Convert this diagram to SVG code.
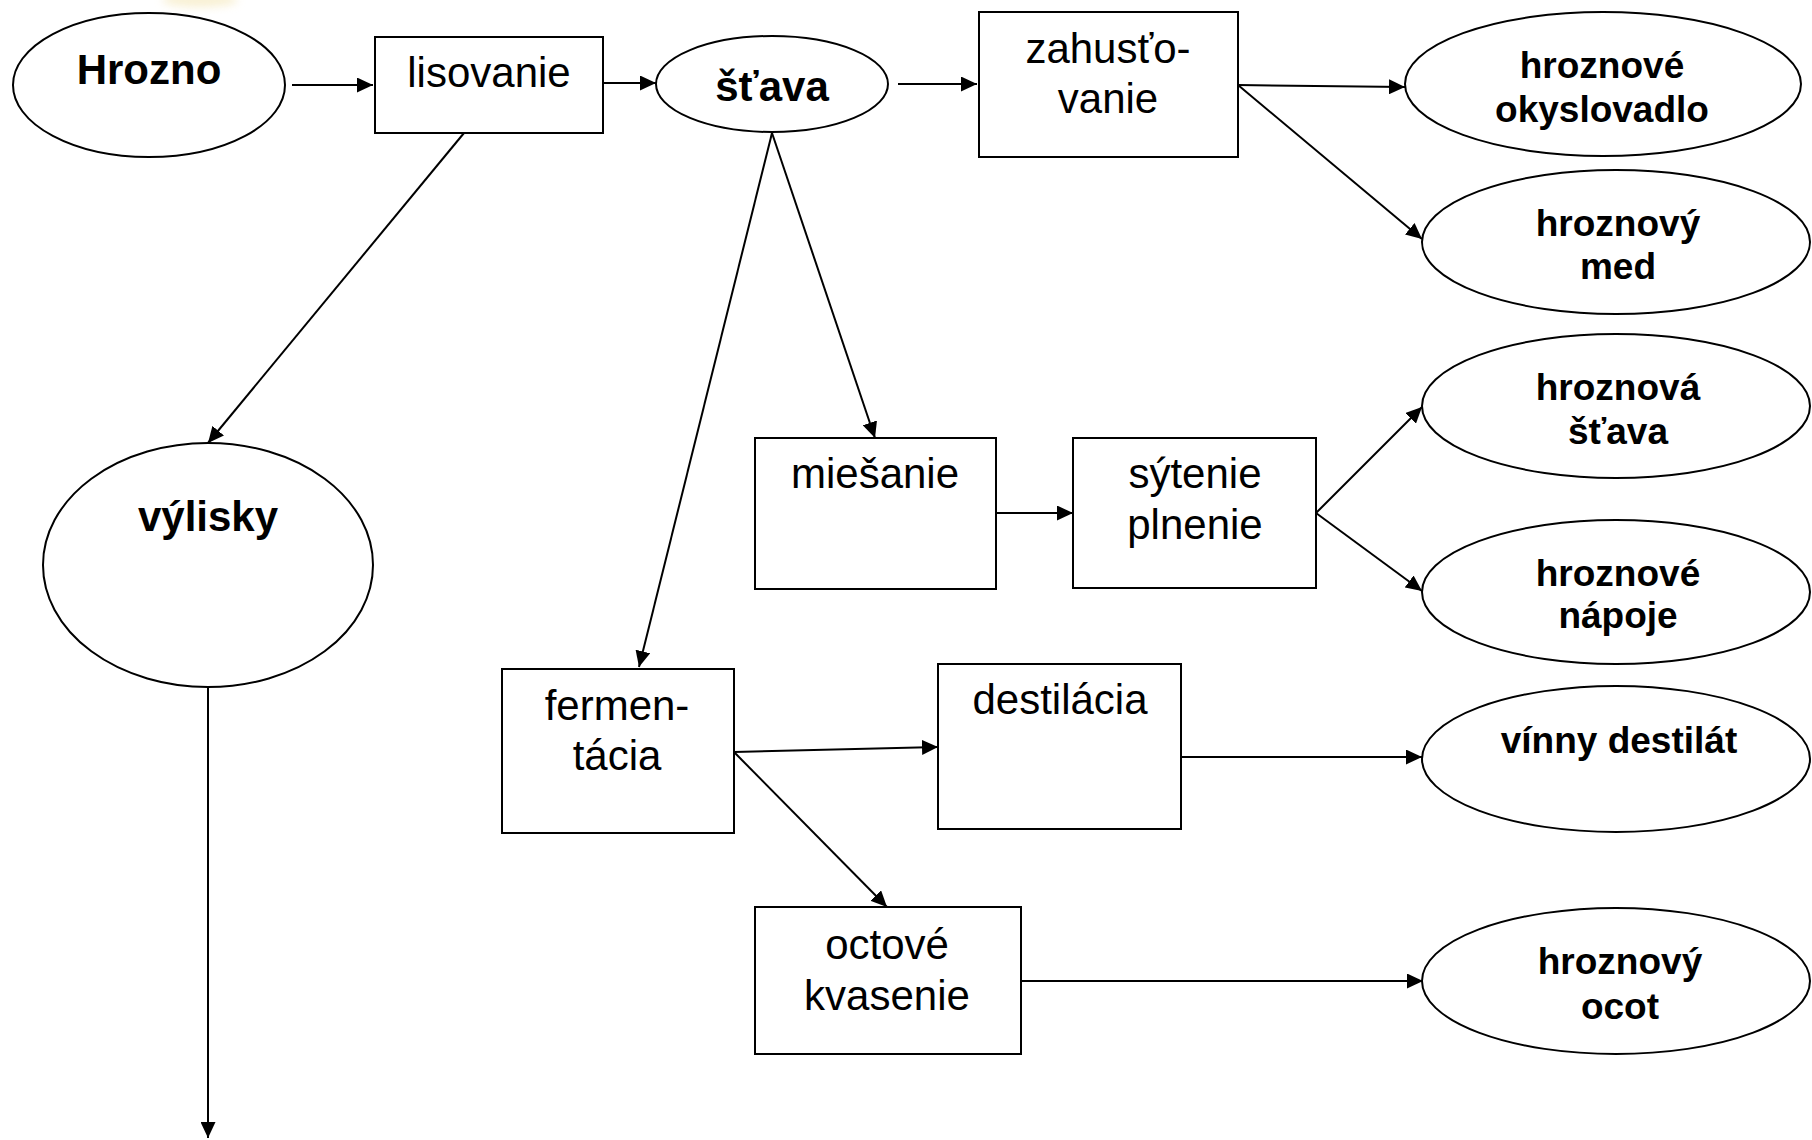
<svg xmlns="http://www.w3.org/2000/svg" width="1812" height="1140" viewBox="0 0 1812 1140">
<defs>
<style>
.shape{fill:#fff;stroke:#000;stroke-width:2}
.ln{fill:none;stroke:#000;stroke-width:2}
.t{font-family:"Liberation Sans",Arial,sans-serif;font-size:42px;fill:#000;text-anchor:middle}
.b{font-weight:bold}
.o{font-family:"Liberation Sans",Arial,sans-serif;font-size:37px;font-weight:bold;fill:#000;text-anchor:middle}
</style>
<marker id="ah" markerUnits="userSpaceOnUse" markerWidth="16" markerHeight="15" refX="16" refY="7.5" orient="auto">
<path d="M0,0 L16,7.5 L0,15 z" fill="#000"/>
</marker>
<filter id="blur" x="-50%" y="-50%" width="200%" height="200%"><feGaussianBlur stdDeviation="4"/></filter>
</defs>
<rect width="1812" height="1140" fill="#fff"/>
<ellipse cx="200" cy="0" rx="38" ry="7" fill="#f2e2a8" opacity="0.5" filter="url(#blur)"/>

<g id="connectors">
<line class="ln" x1="292" y1="85" x2="373" y2="85" marker-end="url(#ah)"/>
<line class="ln" x1="603" y1="83" x2="656" y2="83" marker-end="url(#ah)"/>
<line class="ln" x1="898" y1="84" x2="977" y2="84" marker-end="url(#ah)"/>
<line class="ln" x1="1238" y1="85" x2="1405" y2="87" marker-end="url(#ah)"/>
<line class="ln" x1="1238" y1="85" x2="1422" y2="239" marker-end="url(#ah)"/>
<line class="ln" x1="464" y1="133" x2="208" y2="443" marker-end="url(#ah)"/>
<line class="ln" x1="208" y1="687" x2="208" y2="1138" marker-end="url(#ah)"/>
<line class="ln" x1="772" y1="133" x2="875" y2="438" marker-end="url(#ah)"/>
<line class="ln" x1="772" y1="133" x2="639" y2="667" marker-end="url(#ah)"/>
<line class="ln" x1="996" y1="513" x2="1073" y2="513" marker-end="url(#ah)"/>
<line class="ln" x1="1316" y1="513" x2="1422" y2="407" marker-end="url(#ah)"/>
<line class="ln" x1="1316" y1="513" x2="1422" y2="591" marker-end="url(#ah)"/>
<line class="ln" x1="734" y1="752" x2="938" y2="747" marker-end="url(#ah)"/>
<line class="ln" x1="734" y1="752" x2="887" y2="907" marker-end="url(#ah)"/>
<line class="ln" x1="1179" y1="757" x2="1422" y2="757" marker-end="url(#ah)"/>
<line class="ln" x1="1021" y1="981" x2="1423" y2="981" marker-end="url(#ah)"/>
</g>

<g id="n_hrozno">
<ellipse class="shape" cx="149" cy="85" rx="136" ry="72"/>
<text class="t b" x="149" y="84">Hrozno</text>
</g>
<g id="n_lisovanie">
<rect class="shape" x="375" y="37" width="228" height="96"/>
<text class="t" x="489" y="87">lisovanie</text>
</g>
<g id="n_stava">
<ellipse class="shape" cx="772" cy="84" rx="116" ry="48"/>
<text class="t b" x="772" y="101">šťava</text>
</g>
<g id="n_zahustovanie">
<rect class="shape" x="979" y="12" width="259" height="145"/>
<text class="t" x="1108" y="63">zahusťo-</text>
<text class="t" x="1108" y="113">vanie</text>
</g>
<g id="n_okyslovadlo">
<ellipse class="shape" cx="1603" cy="84" rx="198" ry="72"/>
<text class="o" x="1602" y="78">hroznové</text>
<text class="o" x="1602" y="122">okyslovadlo</text>
</g>
<g id="n_med">
<ellipse class="shape" cx="1616" cy="242" rx="194" ry="72"/>
<text class="o" x="1618" y="236">hroznový</text>
<text class="o" x="1618" y="279">med</text>
</g>
<g id="n_hroznova_stava">
<ellipse class="shape" cx="1616" cy="406" rx="194" ry="72"/>
<text class="o" x="1618" y="400">hroznová</text>
<text class="o" x="1618" y="444">šťava</text>
</g>
<g id="n_napoje">
<ellipse class="shape" cx="1616" cy="592" rx="194" ry="72"/>
<text class="o" x="1618" y="586">hroznové</text>
<text class="o" x="1618" y="628">nápoje</text>
</g>
<g id="n_vinny">
<ellipse class="shape" cx="1616" cy="759" rx="194" ry="73"/>
<text class="o" x="1619" y="753">vínny destilát</text>
</g>
<g id="n_ocot">
<ellipse class="shape" cx="1616" cy="981" rx="194" ry="73"/>
<text class="o" x="1620" y="974">hroznový</text>
<text class="o" x="1620" y="1019">ocot</text>
</g>
<g id="n_vylisky">
<ellipse class="shape" cx="208" cy="565" rx="165" ry="122"/>
<text class="t b" x="208" y="531">výlisky</text>
</g>
<g id="n_miesanie">
<rect class="shape" x="755" y="438" width="241" height="151"/>
<text class="t" x="875" y="488">miešanie</text>
</g>
<g id="n_sytenie">
<rect class="shape" x="1073" y="438" width="243" height="150"/>
<text class="t" x="1195" y="488">sýtenie</text>
<text class="t" x="1195" y="539">plnenie</text>
</g>
<g id="n_fermentacia">
<rect class="shape" x="502" y="669" width="232" height="164"/>
<text class="t" x="617" y="720">fermen-</text>
<text class="t" x="617" y="770">tácia</text>
</g>
<g id="n_destilacia">
<rect class="shape" x="938" y="664" width="243" height="165"/>
<text class="t" x="1060" y="714">destilácia</text>
</g>
<g id="n_octove">
<rect class="shape" x="755" y="907" width="266" height="147"/>
<text class="t" x="887" y="959">octové</text>
<text class="t" x="887" y="1010">kvasenie</text>
</g>
</svg>
